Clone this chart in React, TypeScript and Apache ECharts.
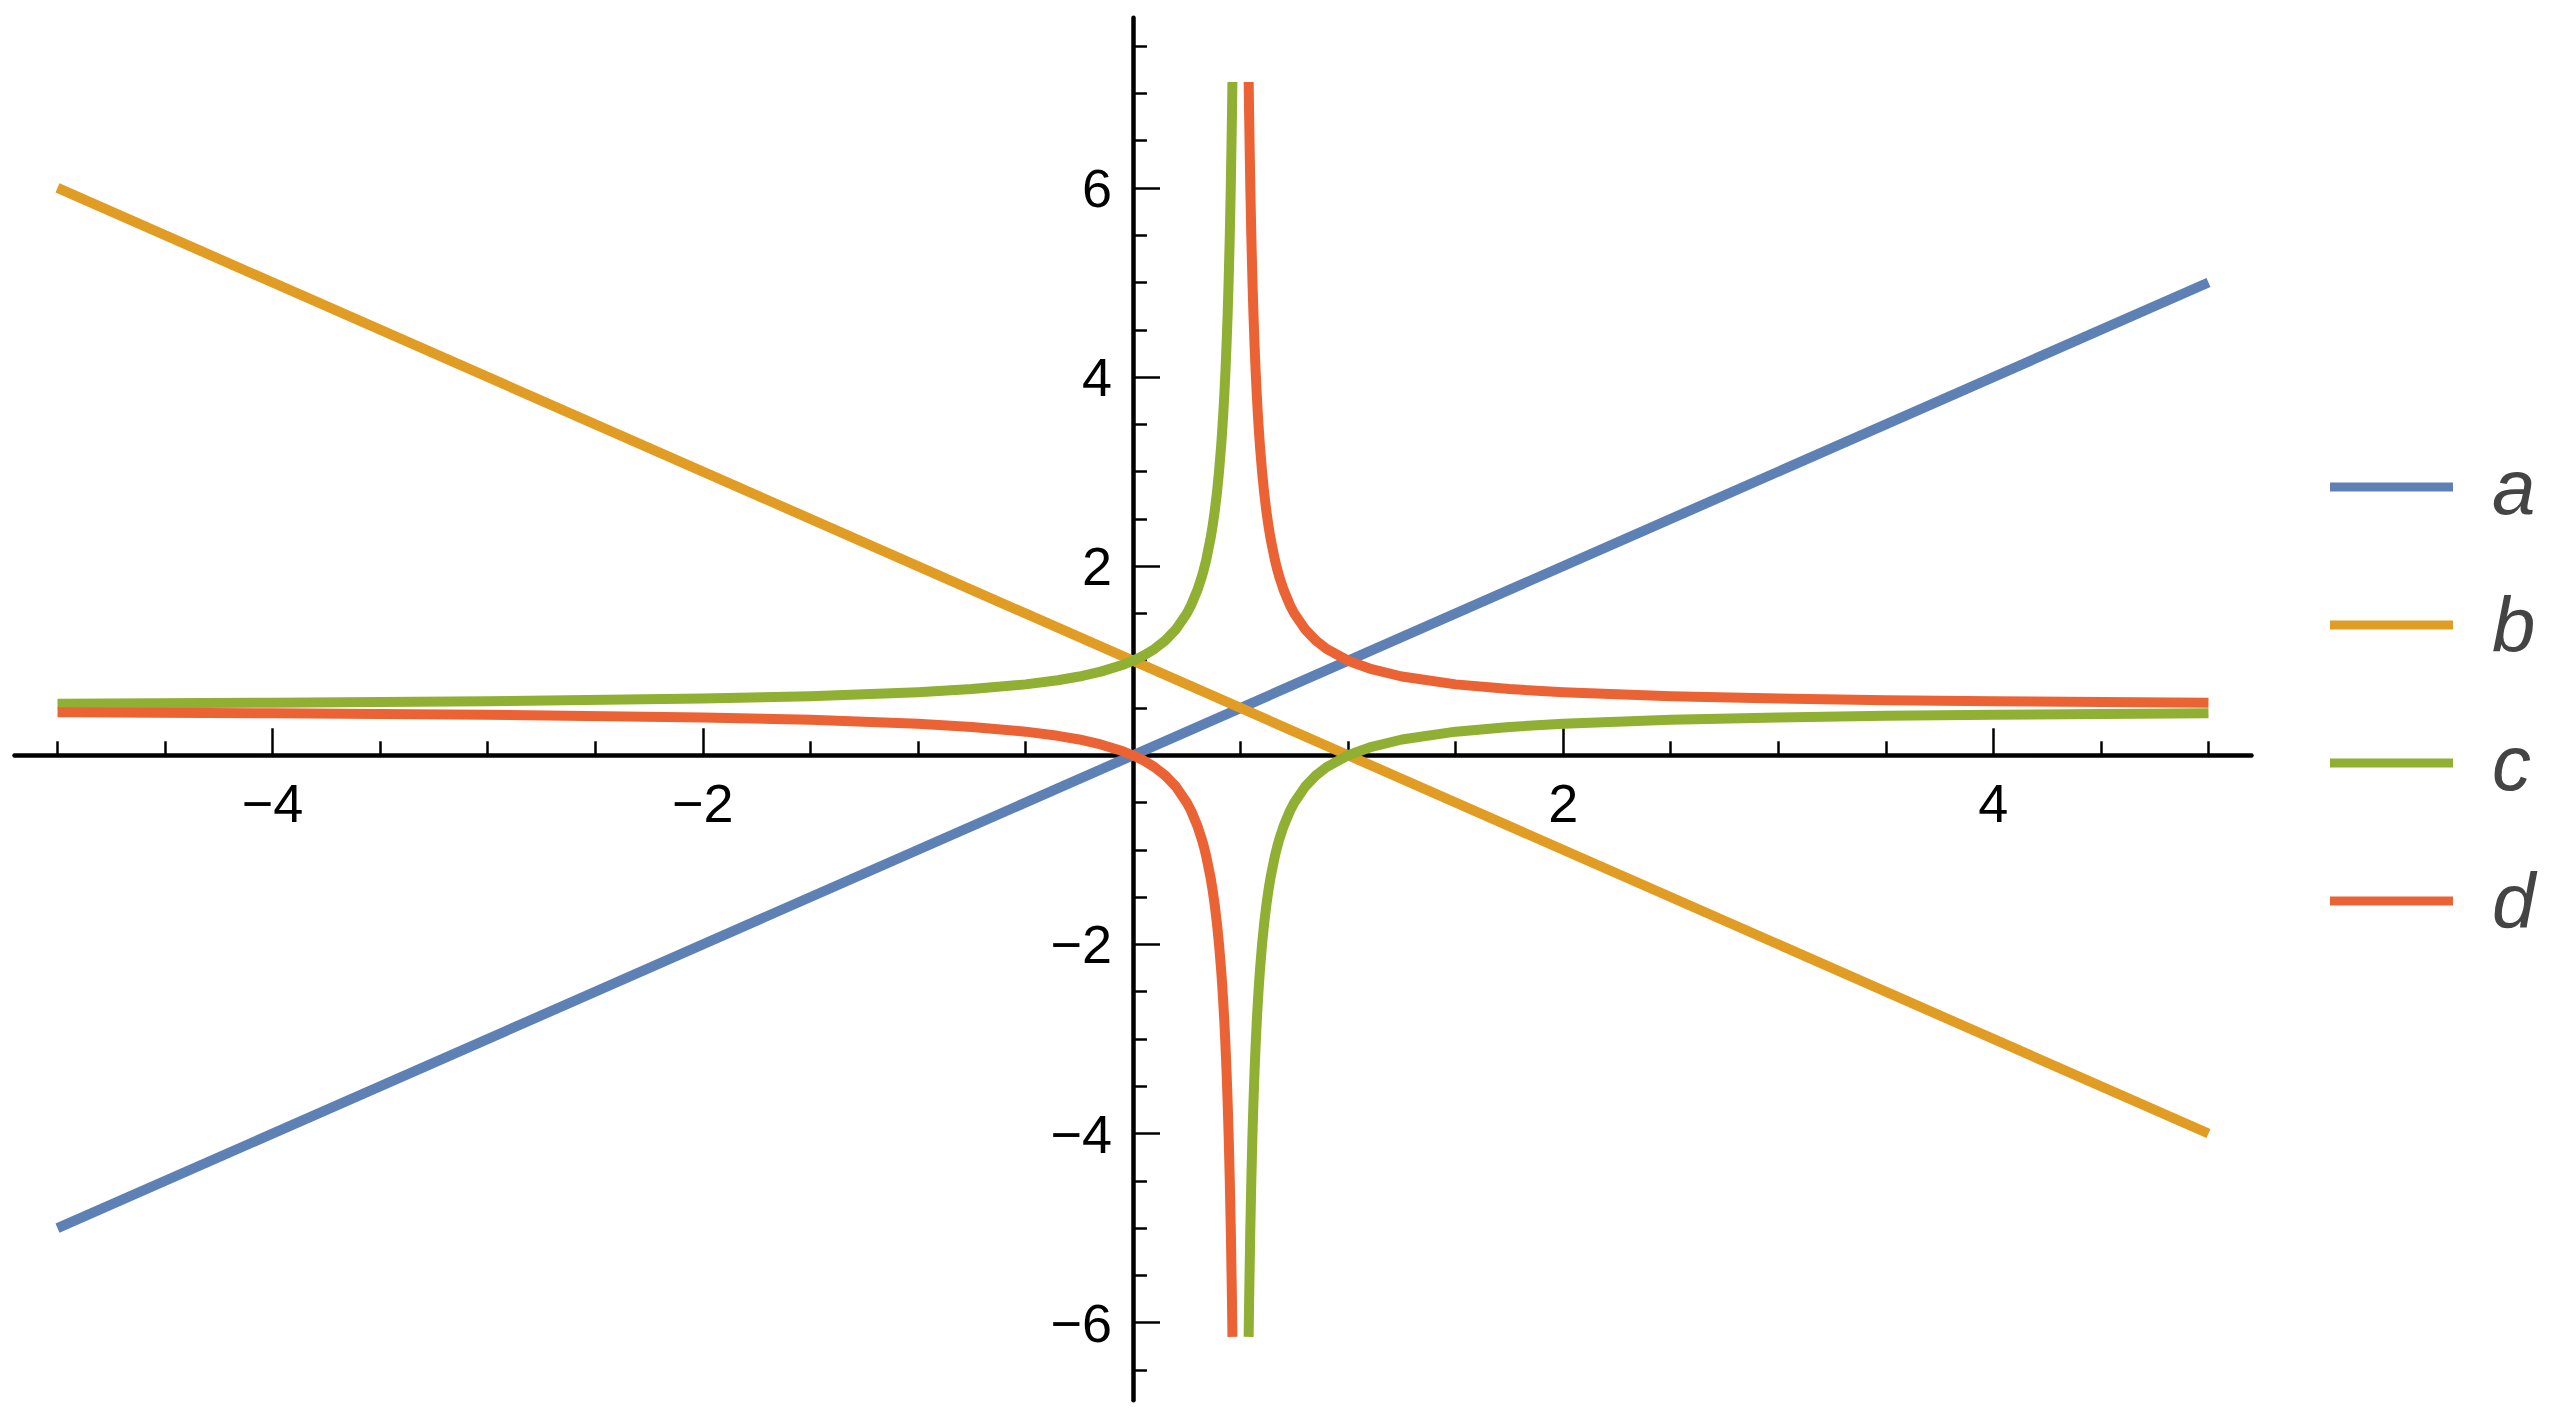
import React, { useEffect, useRef } from "react";
import * as echarts from "echarts";

const seriesNames = ["a", "b", "c", "d"];
const seriesColors = ["#5E81B5", "#E19C24", "#8FB032", "#EB6235"];

const xTickLabels = [-4, -2, 2, 4];
const yTickLabels = [-6, -4, -2, 2, 4, 6];

const aPoints: [number, number][] = [
  [-5, -5],
  [5, 5],
];
const bPoints: [number, number][] = [
  [-5, 6],
  [5, -4],
];

const cLeft: [number, number][] = [
  [-5, 0.545], [-4, 0.556], [-3, 0.571], [-2, 0.6], [-1.5, 0.625], [-1, 0.667],
  [-0.75, 0.7], [-0.5, 0.75], [-0.35, 0.794], [-0.25, 0.833], [-0.15, 0.885],
  [-0.05, 0.955], [0, 1], [0.05, 1.056], [0.1, 1.125], [0.15, 1.214], [0.2, 1.333],
  [0.25, 1.5], [0.27, 1.587], [0.3, 1.75], [0.32, 1.889], [0.33, 1.971], [0.34, 2.063],
  [0.36, 2.286], [0.37, 2.423], [0.38, 2.583], [0.39, 2.773], [0.4, 3],
  [0.41, 3.278], [0.415, 3.441], [0.42, 3.625], [0.425, 3.833], [0.43, 4.071],
  [0.435, 4.346], [0.44, 4.667], [0.445, 5.045], [0.45, 5.5],
  [0.455, 6.056], [0.46, 6.75], [0.4622, 7.12],
];
const cRight: [number, number][] = [
  [0.5376, -6.15], [0.54, -5.75], [0.545, -5.056], [0.55, -4.5], [0.555, -4.045],
  [0.56, -3.667], [0.565, -3.346], [0.57, -3.071], [0.575, -2.833], [0.58, -2.625],
  [0.585, -2.441], [0.59, -2.278], [0.6, -2], [0.61, -1.773], [0.62, -1.583],
  [0.63, -1.423], [0.64, -1.286], [0.66, -1.063], [0.67, -0.971], [0.68, -0.889],
  [0.7, -0.75], [0.73, -0.587], [0.75, -0.5], [0.8, -0.333],
  [0.85, -0.214], [0.9, -0.125], [1, 0], [1.1, 0.083], [1.25, 0.167], [1.5, 0.25],
  [1.75, 0.3], [2, 0.333], [2.5, 0.375], [3, 0.4], [3.5, 0.417], [4, 0.429], [5, 0.444],
];
const dLeft: [number, number][] = [
  [-5, 0.455], [-4, 0.444], [-3, 0.429], [-2, 0.4], [-1.5, 0.375], [-1, 0.333],
  [-0.75, 0.3], [-0.5, 0.25], [-0.35, 0.206], [-0.25, 0.167], [-0.15, 0.115],
  [-0.05, 0.045], [0, 0], [0.05, -0.056], [0.1, -0.125], [0.15, -0.214], [0.2, -0.333],
  [0.25, -0.5], [0.27, -0.587], [0.3, -0.75], [0.32, -0.889], [0.33, -0.971], [0.34, -1.063],
  [0.36, -1.286], [0.37, -1.423], [0.38, -1.583], [0.39, -1.773], [0.4, -2],
  [0.41, -2.278], [0.415, -2.441], [0.42, -2.625], [0.425, -2.833], [0.43, -3.071],
  [0.435, -3.346], [0.44, -3.667], [0.445, -4.045], [0.45, -4.5],
  [0.455, -5.056], [0.46, -5.75], [0.4624, -6.15],
];
const dRight: [number, number][] = [
  [0.5378, 7.12], [0.54, 6.75], [0.545, 6.056], [0.55, 5.5], [0.555, 5.045],
  [0.56, 4.667], [0.565, 4.346], [0.57, 4.071], [0.575, 3.833], [0.58, 3.625],
  [0.585, 3.441], [0.59, 3.278], [0.6, 3], [0.61, 2.773], [0.62, 2.583],
  [0.63, 2.423], [0.64, 2.286], [0.66, 2.063], [0.67, 1.971], [0.68, 1.889],
  [0.7, 1.75], [0.73, 1.587], [0.75, 1.5], [0.8, 1.333],
  [0.85, 1.214], [0.9, 1.125], [1, 1], [1.1, 0.917], [1.25, 0.833], [1.5, 0.75],
  [1.75, 0.7], [2, 0.667], [2.5, 0.625], [3, 0.6], [3.5, 0.583], [4, 0.571], [5, 0.556],
];

const BREAK: any = [0.5, "-"];

const fmt = (v: number) => String(v).replace("-", "\u2212");

const GRID_LEFT = 14.5;
const GRID_RIGHT = 301.5;
const GRID_TOP = 17.7;
const GRID_BOTTOM = 23.8;
const X_MIN = -5.2;
const X_MAX = 5.2;
const Y_MIN = -6.82;
const Y_MAX = 7.8;

export default function App() {
  const ref = useRef<HTMLDivElement>(null);
  useEffect(() => {
    if (!ref.current) return;
    const chart = echarts.init(ref.current, undefined, { renderer: "svg" });
    const W = 2553;
    const H = 1424;
    const gw = W - GRID_LEFT - GRID_RIGHT;
    const gh = H - GRID_TOP - GRID_BOTTOM;
    // place axes through the origin (Mathematica style) by offsetting from grid edges
    const xAxisOffset = -(gh * (0 - Y_MIN)) / (Y_MAX - Y_MIN);
    const yAxisOffset = -(gw * (0 - X_MIN)) / (X_MAX - X_MIN);
    const dataSets: any[] = [
      aPoints,
      bPoints,
      [...cLeft, BREAK, ...cRight],
      [...dLeft, BREAK, ...dRight],
    ];
    chart.setOption({
      animation: false,
      backgroundColor: "#ffffff",
      grid: { left: GRID_LEFT, right: GRID_RIGHT, top: GRID_TOP, bottom: GRID_BOTTOM, containLabel: false },
      legend: {
        orient: "vertical",
        left: 2325,
        top: 442,
        icon: "rect",
        itemWidth: 123,
        itemHeight: 9,
        itemGap: 58,
        data: seriesNames,
        textStyle: {
          fontFamily: "Liberation Sans",
          fontStyle: "italic",
          fontSize: 78,
          lineHeight: 80,
          color: "#444444",
          padding: [0, 0, 0, 34],
        },
      },
      xAxis: {
        type: "value",
        min: X_MIN,
        max: X_MAX,
        splitNumber: 5,
        position: "bottom",
        offset: xAxisOffset,
        axisLine: { onZero: false, lineStyle: { color: "#000", width: 4.5 } },
        axisTick: {
          show: true,
          inside: true,
          length: 27,
          customValues: xTickLabels,
          lineStyle: { color: "#000", width: 2.5 },
        },
        minorTick: { show: true, splitNumber: 4, length: 14, lineStyle: { color: "#000", width: 2.5 } },
        axisLabel: {
          customValues: xTickLabels,
          formatter: fmt,
          margin: 21,
          fontFamily: "Liberation Sans",
          fontSize: 54,
          color: "#000",
        },
        splitLine: { show: false },
        minorSplitLine: { show: false },
      },
      yAxis: {
        type: "value",
        min: Y_MIN,
        max: Y_MAX,
        splitNumber: 7,
        position: "left",
        offset: yAxisOffset,
        axisLine: { onZero: false, lineStyle: { color: "#000", width: 4.5 } },
        axisTick: {
          show: true,
          inside: true,
          length: 27,
          customValues: yTickLabels,
          lineStyle: { color: "#000", width: 2.5 },
        },
        minorTick: { show: true, splitNumber: 4, length: 14, lineStyle: { color: "#000", width: 2.5 } },
        axisLabel: {
          customValues: yTickLabels,
          formatter: fmt,
          margin: 21,
          fontFamily: "Liberation Sans",
          fontSize: 54,
          color: "#000",
        },
        splitLine: { show: false },
        minorSplitLine: { show: false },
      },
      series: seriesNames.map((name, i) => ({
        name,
        type: "line",
        data: dataSets[i],
        showSymbol: false,
        symbol: "none",
        clip: true,
        connectNulls: false,
        color: seriesColors[i],
        lineStyle: { color: seriesColors[i], width: 10, cap: "butt", join: "round" },
        z: 2 + i,
      })),
    });
    return () => chart.dispose();
  }, []);
  return (
    <div
      ref={ref}
      style={{ position: "absolute", left: 0, top: 0, width: 2553, height: 1424, background: "#fff" }}
    />
  );
}
